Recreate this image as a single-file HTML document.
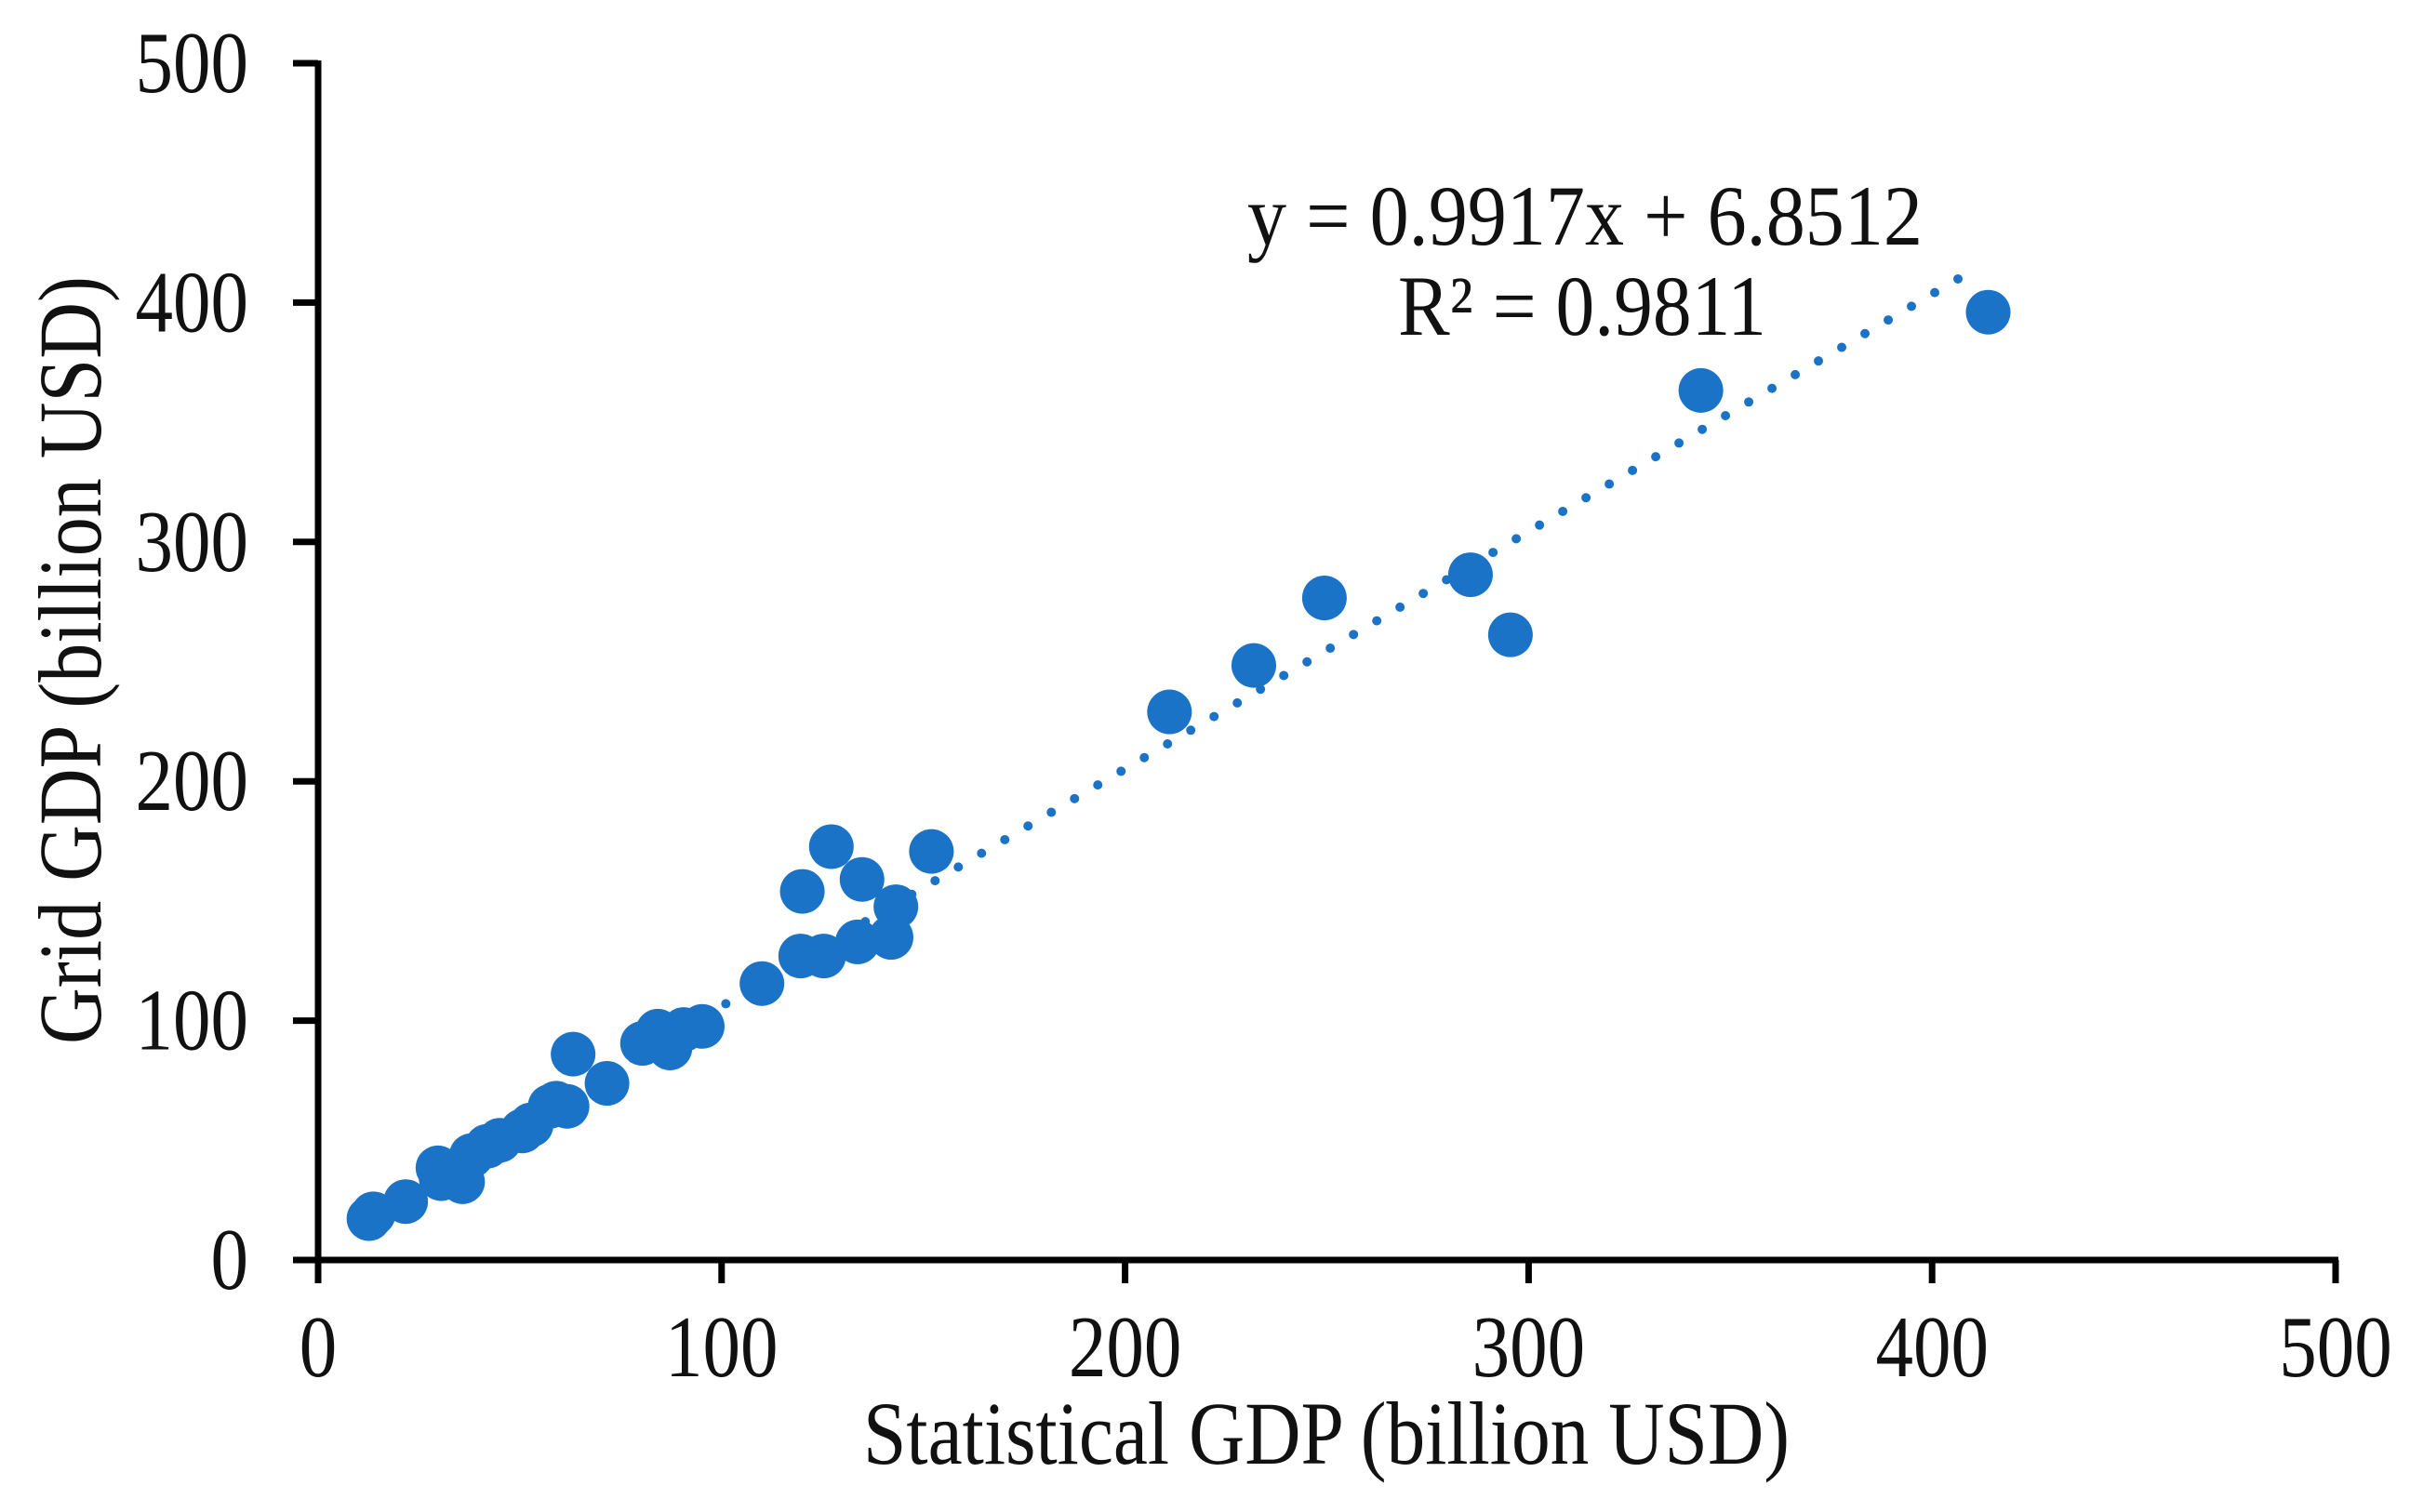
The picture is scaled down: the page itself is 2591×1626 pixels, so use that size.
<!DOCTYPE html>
<html><head><meta charset="utf-8"><style>
html,body{margin:0;padding:0;background:#fff;}
svg{display:block;font-family:"Liberation Serif",serif;}
</style></head><body>
<svg id="chart" width="2591" height="1626" viewBox="0 0 2591 1626"></svg>
<script>
const xTicks=[0,100,200,300,400,500];
const yTicks=[0,100,200,300,400,500];
const xVals=[12.6,13.7,21.7,29.7,30.5,35.8,38,41.9,45,50.6,52.8,57.5,59,61.7,63.2,71.6,80.4,84.2,87.2,90.6,95.2,110,119.6,120,125.3,127.2,133.7,134.8,142,143.2,152,211,231.9,249.4,285.6,295.5,342.7,413.9];
const yVals=[17.3,19.3,24.4,38.5,34,32.7,43.6,47.5,50,53.9,56.5,64.2,65.5,64.2,86,73.8,90.5,95.6,88.6,96.3,97.6,115.5,127,154,127,172.7,132.9,159,134.8,147.6,170.7,229,248.4,276.6,286.3,261.2,363.3,396];
const slope=0.9917, intercept=6.8512;
const trendRange=[78,411];

const NS="http://www.w3.org/2000/svg";
const svg=document.getElementById('chart');
const X0=342,X1=2511,Y0=1355,Y1=68;
const sx=v=>X0+(v-0)/500*(X1-X0);
const sy=v=>Y0-(v-0)/500*(Y0-Y1);
function mk(tag,attrs,parent){const e=document.createElementNS(NS,tag);for(const k in attrs)e.setAttribute(k,attrs[k]);(parent||svg).appendChild(e);return e;}

const tl=mk('line',{x1:sx(trendRange[0]),y1:sy(slope*trendRange[0]+intercept),x2:sx(trendRange[1]),y2:sy(slope*trendRange[1]+intercept),stroke:'#1a73c7','stroke-width':10,'stroke-linecap':'round','stroke-dasharray':'0 29'});



for(let i=0;i<xVals.length;i++){
  const c=mk('ellipse',{cx:sx(xVals[i]),cy:sy(yVals[i]),rx:24,ry:24,fill:'#1a73c7'});
  
  
}

const ax=mk('line',{x1:X0-27,y1:Y0,x2:X1+3,y2:Y0,stroke:'#000','stroke-width':7});


const ay=mk('line',{x1:X0,y1:Y0+25,x2:X0,y2:Y1-3,stroke:'#000','stroke-width':7});



xTicks.forEach(t=>{
  const l=mk('line',{x1:sx(t),y1:Y0,x2:sx(t),y2:Y0+25,stroke:'#000','stroke-width':7});
  
  
  const s=String(t);
  const tx=mk('text',{x:sx(t),y:1480,'text-anchor':'middle','font-size':94,fill:'#111',textLength:s.length*40.5,lengthAdjust:'spacingAndGlyphs'});
  tx.textContent=s;
  
  
});
yTicks.forEach(t=>{
  const l=mk('line',{x1:X0-27,y1:sy(t),x2:X0,y2:sy(t),stroke:'#000','stroke-width':7});
  
  
  const s=String(t);
  const tx=mk('text',{x:267,y:sy(t)+31,'text-anchor':'end','font-size':94,fill:'#111',textLength:s.length*40.5,lengthAdjust:'spacingAndGlyphs'});
  tx.textContent=s;
  
  
});
</script>
<script>
const s=document.getElementById('chart');
function t2(attrs,txt){const e=document.createElementNS("http://www.w3.org/2000/svg",'text');for(const k in attrs)e.setAttribute(k,attrs[k]);e.textContent=txt;s.appendChild(e);return e;}
const xt=t2({x:1426,y:1574,'text-anchor':'middle','font-size':96,fill:'#111',textLength:996,lengthAdjust:'spacingAndGlyphs'},'Statistical GDP (billion USD)');


const yt=t2({x:0,y:0,'text-anchor':'middle','font-size':96,fill:'#111',textLength:826,lengthAdjust:'spacingAndGlyphs',transform:'translate(108,710) rotate(-90)'},'Grid GDP (billion USD)');


const e1=t2({x:1341,y:263,'font-size':92,fill:'#111',textLength:726,lengthAdjust:'spacingAndGlyphs'},'y = 0.9917x + 6.8512');


const e2=t2({x:1503,y:360,'font-size':92,fill:'#111',textLength:396,lengthAdjust:'spacingAndGlyphs'},'R² = 0.9811');


</script>
</body></html>
